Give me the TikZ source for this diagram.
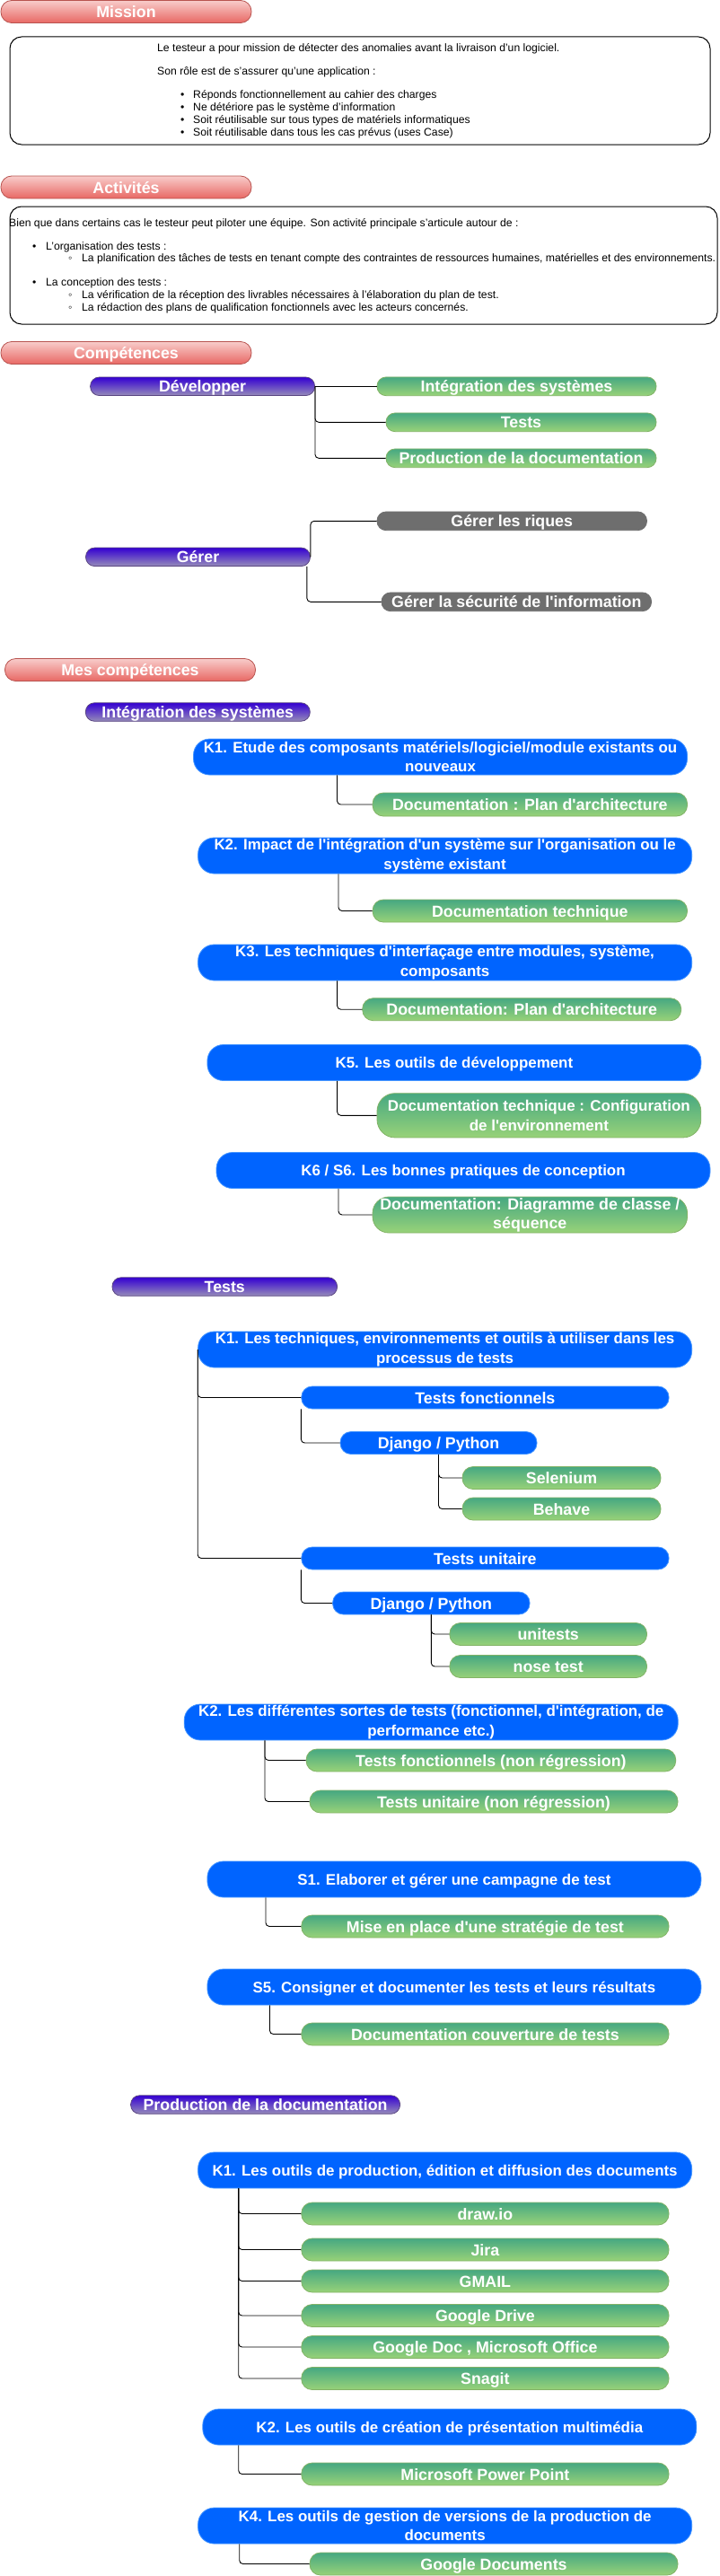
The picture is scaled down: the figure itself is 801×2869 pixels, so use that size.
\documentclass[tikz,border=0pt]{standalone}
\usepackage{fontspec}
\setmainfont{Liberation Sans}[Ligatures=TeXOff]

\definecolor{hdrtop}{RGB}{248,204,202}
\definecolor{hdrbot}{RGB}{232,104,100}
\definecolor{hdrline}{RGB}{184,84,80}
\definecolor{cattop}{RGB}{52,0,210}
\definecolor{catbot}{RGB}{150,140,185}
\definecolor{catline}{RGB}{90,70,130}
\definecolor{subtop}{RGB}{70,168,130}
\definecolor{subbot}{RGB}{152,210,120}
\definecolor{subline}{RGB}{130,179,102}
\definecolor{kblue}{RGB}{0,100,255}
\definecolor{kline}{RGB}{70,150,255}
\definecolor{riskgrey}{RGB}{110,110,110}

\newcommand\pillfont{\fontsize{17.8}{21}\selectfont\bfseries}
\newcommand\smallpillfont{\fontsize{17}{21.3}\selectfont\bfseries}
\newcommand\kfont{\fontsize{16.9}{21.3}\selectfont\bfseries}
\newcommand\bodyfont{\fontsize{12.2}{14}\selectfont}

\tikzset{
  pill/.style={rounded corners=10pt, inner sep=0pt, text=white, align=center, line width=0.8pt},
  oneline/.style={text height=13pt, text depth=0pt},
  hdr/.style={pill, oneline, font=\pillfont, rounded corners=12pt, top color=hdrtop, bottom color=hdrbot, draw=hdrline, minimum width=279pt, minimum height=25pt},
  cat/.style={pill, oneline, font=\pillfont, top color=cattop, bottom color=catbot, draw=catline, minimum height=20.5pt},
  subtwo/.style={pill, font=\pillfont, rounded corners=12pt, top color=subtop, bottom color=subbot, draw=subline, minimum height=25pt},
  sub/.style={subtwo, oneline},
  riskpill/.style={pill, oneline, font=\pillfont, fill=riskgrey, draw=riskgrey, minimum height=20.7pt},
  ktwo/.style={pill, font=\kfont, rounded corners=18pt, fill=kblue, draw=kline, minimum width=550pt, minimum height=40pt},
  kone/.style={ktwo, text height=12.3pt, text depth=0pt},
  tbox/.style={pill, oneline, font=\pillfont, rounded corners=12pt, fill=kblue, draw=kline, minimum height=25pt},
  txtbox/.style={draw=black, line width=1pt, rounded corners=13pt, inner sep=0pt},
  para/.style={anchor=west, inner sep=0pt, font=\bodyfont, text height=8.7pt, text depth=0pt},
  link/.style={draw=black, line width=0.9pt, rounded corners=4pt}
}

\begin{document}
\begin{tikzpicture}[x=1pt, y=-1pt]
\useasboundingbox (0,0) rectangle (801,2869);

% headers
\node[hdr] (mission) at (140.5,13) {Mission};
\node[hdr] (activites) at (140.5,208.5) {Activités};
\node[hdr] (competences) at (140.5,393) {Compétences};
\node[hdr] (mescomp) at (145,746) {Mes compétences};

% mission
\node[txtbox, minimum width=780pt, minimum height=120pt] (missionbox) at (401,101) {};
\node[para] (mt1) at (175,53) {Le testeur a pour mission de détecter des anomalies avant la livraison d’un logiciel.};
\node[para] (mt2) at (175,79) {Son rôle est de s’assurer qu’une application :};
\foreach \t [count=\i] in {Réponds fonctionnellement au cahier des charges, Ne détériore pas le système d’information, Soit réutilisable sur tous types de matériels informatiques, Soit réutilisable dans tous les cas prévus (uses Case)}
    \node[para] (mb\i) at (201,91+14*\i) {\makebox[14pt][l]{•}\t};

% activites
\node[txtbox, minimum width=788pt, minimum height=131pt] (activbox) at (405,295.5) {};
\node[para] (at1) at (10,248) {Bien que dans certains cas le testeur peut piloter une équipe. Son activité principale s’articule autour de :};
\node[para] (ab1) at (36,274) {\makebox[15pt][l]{•}L’organisation des tests :};
\node[para] (as1) at (76,287) {\makebox[15pt][l]{◦}La planification des tâches de tests en tenant compte des contraintes de ressources humaines, matérielles et des environnements.};
\node[para] (ab2) at (36,314) {\makebox[15pt][l]{•}La conception des tests :};
\node[para] (as2) at (76,328) {\makebox[15pt][l]{◦}La vérification de la réception des livrables nécessaires à l’élaboration du plan de test.};
\node[para] (as3) at (76,342) {\makebox[15pt][l]{◦}La rédaction des plans de qualification fonctionnels avec les acteurs concernés.};

% competences
\node[cat, minimum width=250pt] (dev) at (225.6,430.3) {Développer};
\node[sub, rounded corners=10pt, minimum width=311pt, minimum height=20.7pt] (integ) at (575.5,430.3) {Intégration des systèmes};
\node[sub, rounded corners=10pt, minimum width=301pt, minimum height=20.7pt] (tests) at (580.5,470.3) {Tests};
\node[sub, rounded corners=10pt, minimum width=301pt, minimum height=20.7pt] (prod) at (580.5,510.3) {Production de la documentation};
\draw[link] (dev.east) -- (integ.west);
\draw[link] (dev.east) |- (tests.west);
\draw[link] (dev.east) |- (prod.west);

\node[riskpill, minimum width=300.5pt] (riques) at (570.25,580.3) {Gérer les riques};
\node[cat, minimum width=250pt] (gerer) at (220.5,620.3) {Gérer};
\node[riskpill, minimum width=300.6pt] (secu) at (575.3,670.3) {Gérer la sécurité de l'information};
\draw[link] (gerer.east) |- (riques.west);
\draw[link] ([xshift=-4pt]gerer.south east) |- (secu.west);

% integration des systemes
\node[cat, minimum width=250pt] (catinteg) at (220.3,793) {Intégration des systèmes};
\node[ktwo] (k1i) at (490.5,843) {K1. Etude des composants matériels/logiciel/module existants ou\\nouveaux};
\node[sub, minimum width=350.5pt, minimum height=26pt] (d1i) at (590.3,896) {Documentation : Plan d'architecture};
\draw[link] ([xshift=-115pt]k1i.south) |- (d1i.west);
\node[ktwo] (k2i) at (495.6,953) {K2. Impact de l'intégration d'un système sur l'organisation ou le\\système existant};
\node[sub, minimum width=350.5pt] (d2i) at (590.3,1014.5) {Documentation technique};
\draw[link] ([xshift=-118.6pt]k2i.south) |- (d2i.west);
\node[ktwo] (k3i) at (495.6,1072) {K3. Les techniques d'interfaçage entre modules, système,\\composants};
\node[sub, minimum width=355pt] (d3i) at (581.2,1124.2) {Documentation: Plan d'architecture};
\draw[link] ([xshift=-120pt]k3i.south) |- (d3i.west);
\node[kone] (k5i) at (505.9,1183.5) {K5. Les outils de développement};
\node[subtwo, font=\smallpillfont, rounded corners=20pt, minimum width=360.8pt, minimum height=49.3pt] (d5i) at (600.4,1242.3) {Documentation technique : Configuration\\de l'environnement};
\draw[link] ([xshift=-130.3pt]k5i.south) |- (d5i.west);
\node[kone] (k6i) at (516,1303.5) {K6 / S6. Les bonnes pratiques de conception};
\node[subtwo, rounded corners=18pt, minimum width=350.5pt, minimum height=40pt] (d6i) at (590.3,1353) {Documentation: Diagramme de classe /\\séquence};
\draw[link] ([xshift=-139pt]k6i.south) |- (d6i.west);

% tests
\node[cat, minimum width=250.6pt] (cattests) at (250.3,1433) {Tests};
\node[ktwo] (k1t) at (495.6,1503) {K1. Les techniques, environnements et outils à utiliser dans les\\processus de tests};
\node[tbox, minimum width=409.3pt] (tf) at (540.4,1556.5) {Tests fonctionnels};
\node[tbox, minimum width=219pt] (dj1) at (488.5,1607) {Django / Python};
\node[sub, minimum width=221pt] (sel) at (625.5,1646) {Selenium};
\node[sub, minimum width=221pt] (beh) at (625.5,1680.5) {Behave};
\node[tbox, minimum width=409.3pt] (tu) at (540.4,1735.5) {Tests unitaire};
\node[tbox, minimum width=219.5pt] (dj2) at (480.3,1785.5) {Django / Python};
\node[sub, minimum width=219.7pt] (uni) at (610.7,1820) {unitests};
\node[sub, minimum width=219.7pt] (nose) at (610.7,1856) {nose test};
\draw[link] (k1t.west) |- (tf.west);
\draw[link] (k1t.west) |- (tu.west);
\draw[link] (tf.south west) |- (dj1.west);
\draw[link] (tu.south west) |- (dj2.west);
\foreach \n in {sel,beh}
    \draw[link] (dj1.south) |- (\n.west);
\foreach \n in {uni,nose}
    \draw[link] (dj2.south) |- (\n.west);

\node[ktwo] (k2t) at (480.2,1918) {K2. Les différentes sortes de tests (fonctionnel, d'intégration, de\\performance etc.)};
\node[sub, minimum width=411.7pt] (tfnr) at (546.9,1960.5) {Tests fonctionnels (non régression)};
\node[sub, minimum width=410pt] (tunr) at (550,2006.5) {Tests unitaire (non régression)};
\foreach \n in {tfnr,tunr}
    \draw[link] ([xshift=-185.2pt]k2t.south) |- (\n.west);

\node[kone] (s1) at (505.9,2093) {S1. Elaborer et gérer une campagne de test};
\node[sub, minimum width=409.3pt] (mep) at (540.4,2145.5) {Mise en place d'une stratégie de test};
\draw[link] ([xshift=-209.9pt]s1.south) |- (mep.west);
\node[kone] (s5) at (505.9,2213) {S5. Consigner et documenter les tests et leurs résultats};
\node[sub, minimum width=409.3pt] (dct) at (540.4,2265.5) {Documentation couverture de tests};
\draw[link] ([xshift=-205.4pt]s5.south) |- (dct.west);

% production de la documentation
\node[cat, minimum width=300pt] (catprod) at (295.6,2344) {Production de la documentation};
\node[kone] (k1p) at (495.6,2417) {K1. Les outils de production, édition et diffusion des documents};
\foreach \n/\y/\t in {drawio/2465.5/draw.io, jira/2505.5/Jira, gmail/2540.5/GMAIL, gdrive/2579/Google Drive, gdoc/2614/{Google Doc , Microsoft Office}, snagit/2649/Snagit}
{
    \node[sub, minimum width=409.3pt] (\n) at (540.4,\y) {\t};
    \draw[link] ([xshift=-229.9pt]k1p.south) |- (\n.west);
}
\node[kone] (k2p) at (500.8,2703) {K2. Les outils de création de présentation multimédia};
\node[sub, minimum width=409.3pt] (mpp) at (540.4,2755.5) {Microsoft Power Point};
\draw[link] ([xshift=-235.1pt]k2p.south) |- (mpp.west);
\node[ktwo] (k4p) at (495.6,2813) {K4. Les outils de gestion de versions de la production de\\documents};
\node[sub, minimum width=410pt] (gdocs) at (550,2855.5) {Google Documents};
\draw[link] ([xshift=-228.9pt]k4p.south) |- (gdocs.west);
\end{tikzpicture}
\end{document}
